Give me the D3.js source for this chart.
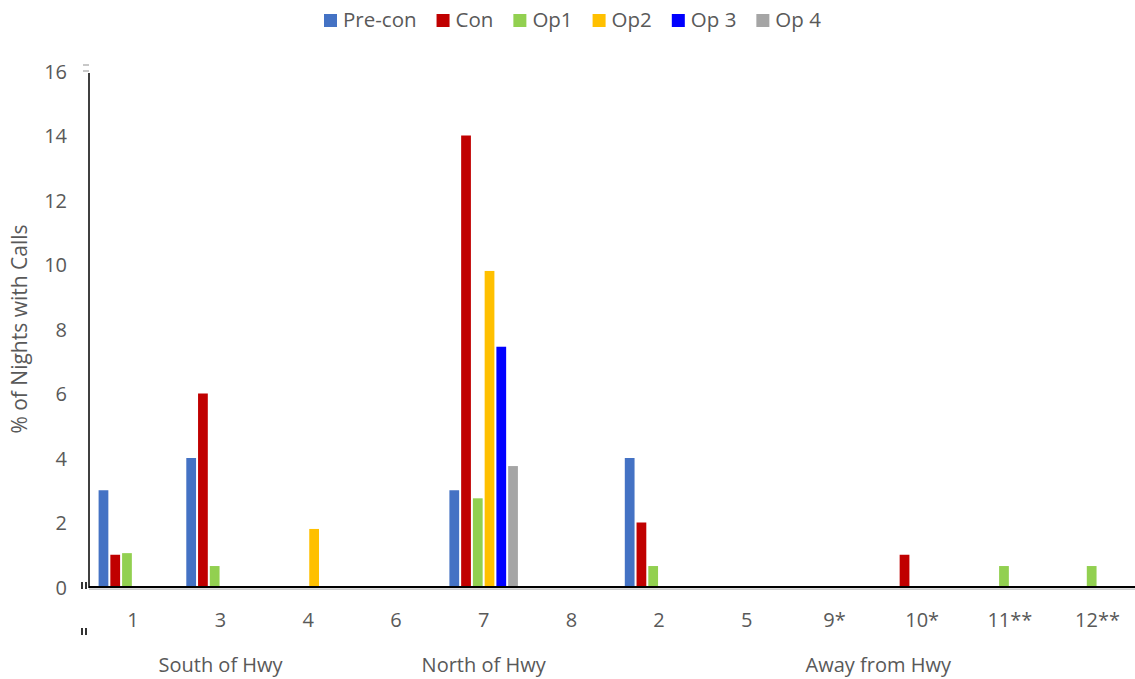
<!DOCTYPE html>
<html><head><meta charset="utf-8">
<script src="https://cdn.jsdelivr.net/npm/d3@7"></script>
<style>body{margin:0;background:#fff}svg{display:block}text{font-family:"Open Sans",sans-serif;fill:#595959}</style>
</head><body><svg id="c" width="1135" height="679"></svg>
<script>
const categories = ["1","3","4","6","7","8","2","5","9*","10*","11**","12**"];
const groupLabels = ["South of Hwy","North of Hwy","Away from Hwy"];
const groupSpans = [[0,2],[3,5],[6,11]];
const seriesNames = ["Pre-con","Con","Op1","Op2","Op 3","Op 4"];
const seriesColors = ["#4472C4","#C00000","#92D050","#FFC000","#0000FF","#A5A5A5"];
const preCon = [3,4,0,0,3,0,4,0,0,0,0,0];
const con    = [1,6,0,0,14,0,2,0,0,1,0,0];
const op1    = [1.05,0.65,0,0,2.75,0,0.65,0,0,0,0.65,0.65];
const op2    = [0,0,1.8,0,9.8,0,0,0,0,0,0,0];
const op3    = [0,0,0,0,7.45,0,0,0,0,0,0,0];
const op4    = [0,0,0,0,3.75,0,0,0,0,0,0,0];
const yTicks = [0,2,4,6,8,10,12,14,16];
const yTitle = "% of Nights with Calls";

const series = [preCon,con,op1,op2,op3,op4];
const svg = d3.select("#c");
const x0 = 89, plotRight = 89 + 12*87.7, yBase = 587, yTop = 71;

const x = d3.scaleBand().domain(categories).range([x0, plotRight]).padding(0);
const inner = 70.5;
const x1 = d3.scaleBand().domain(seriesNames).range([(x.bandwidth()-inner)/2, (x.bandwidth()+inner)/2]).padding(0);
const barW = x1.bandwidth()*0.83;
const y = d3.scaleLinear().domain([0,16]).range([yBase, yTop]);

// bars
series.forEach((vals, si) => {
  svg.append("g").selectAll("rect").data(vals.map((v,i)=>({v, c:categories[i]})).filter(d=>d.v>0))
    .join("rect")
    .attr("x", d => x(d.c) + x1(seriesNames[si]) + (x1.bandwidth()-barW)/2)
    .attr("width", barW)
    .attr("y", d => y(d.v))
    .attr("height", d => yBase - y(d.v))
    .attr("fill", seriesColors[si]);
});

// y axis
const yAxis = d3.axisLeft(y).tickValues(yTicks).tickSize(0).tickPadding(0);
const ga = svg.append("g").attr("transform",`translate(${x0},0)`).call(yAxis);
ga.select(".domain").remove();
ga.selectAll("text").attr("x",-22).attr("dy","0.35em").style("font-size","20px").style("font-family","'Open Sans',sans-serif").attr("fill","#595959");
svg.append("line").attr("x1",x0).attr("x2",x0).attr("y1",y(16)+2).attr("y2",yBase+1).attr("stroke","#000").attr("stroke-width",1.5);
svg.append("rect").attr("x",x0-6).attr("y",y(16)-7).attr("width",6).attr("height",2).attr("fill","#c8c8c8");
svg.append("rect").attr("x",x0-6).attr("y",y(16)-1).attr("width",6).attr("height",2).attr("fill","#c8c8c8");

// x axis
svg.append("line").attr("x1",x0).attr("x2",1135).attr("y1",yBase).attr("y2",yBase).attr("stroke","#000").attr("stroke-width",2);
svg.append("line").attr("x1",x0).attr("x2",1135).attr("y1",yBase+2.2).attr("y2",yBase+2.2).attr("stroke","#bdbdbd").attr("stroke-width",1.2);
[[yBase-5,yBase+2],[yBase+41,yBase+48]].forEach(([a,b])=>{
  [x0-7,x0-3].forEach(xx=>svg.append("line").attr("x1",xx).attr("x2",xx).attr("y1",a).attr("y2",b).attr("stroke","#000").attr("stroke-width",1.6));
});

const xAxis = d3.axisBottom(x).tickSize(0).tickPadding(0);
const gx = svg.append("g").attr("transform",`translate(0,${yBase})`).call(xAxis);
gx.select(".domain").remove();
gx.selectAll("text").attr("y",33).attr("dy","0.35em").style("font-size","20px").style("font-family","'Open Sans',sans-serif").attr("fill","#595959");

// group labels
svg.append("g").selectAll("text").data(groupLabels).join("text")
  .attr("x",(d,i)=>(x(categories[groupSpans[i][0]]) + x(categories[groupSpans[i][1]]) + x.bandwidth())/2)
  .attr("y",665).attr("dy","0.35em").attr("text-anchor","middle").style("font-size","20px").text(d=>d);

// y title
svg.append("text").attr("transform",`translate(20,${(yTop+yBase)/2}) rotate(-90)`).attr("text-anchor","middle").attr("dy","0.35em")
  .style("font-size","21px").text(yTitle);

// legend
const lg = svg.append("g");
let lx = 324;
seriesNames.forEach((n,i)=>{
  lg.append("rect").attr("x",lx).attr("y",14).attr("width",13).attr("height",13).attr("fill",seriesColors[i]);
  const t = lg.append("text").attr("x",lx+19).attr("y",27).style("font-size","20.5px").text(n);
  lx += 19 + t.node().getComputedTextLength() + 20;
});
</script></body></html>
